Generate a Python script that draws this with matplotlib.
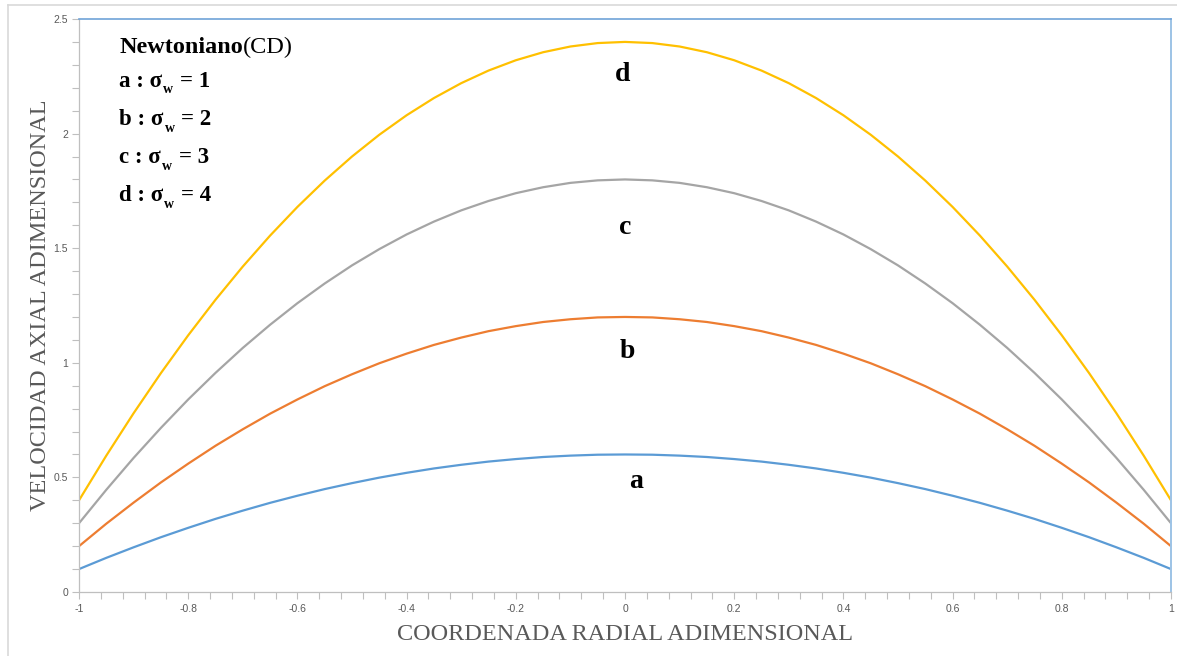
import numpy as np
import matplotlib.pyplot as plt
from matplotlib.lines import Line2D
from matplotlib.ticker import MultipleLocator

# radial coordinate and axial velocity profiles (sigma_w = 1..4)
r = np.round(np.arange(-1.0, 1.0001, 0.05), 2)

u_a = [0.1, 0.149, 0.195, 0.239, 0.28, 0.319, 0.355, 0.389, 0.42, 0.449, 0.475,
       0.499, 0.52, 0.539, 0.555, 0.569, 0.58, 0.589, 0.595, 0.599, 0.6,
       0.599, 0.595, 0.589, 0.58, 0.569, 0.555, 0.539, 0.52, 0.499, 0.475,
       0.449, 0.42, 0.389, 0.355, 0.319, 0.28, 0.239, 0.195, 0.149, 0.1]
u_b = [0.2, 0.298, 0.39, 0.478, 0.56, 0.638, 0.71, 0.778, 0.84, 0.898, 0.95,
       0.998, 1.04, 1.078, 1.11, 1.138, 1.16, 1.178, 1.19, 1.198, 1.2,
       1.198, 1.19, 1.178, 1.16, 1.138, 1.11, 1.078, 1.04, 0.998, 0.95,
       0.898, 0.84, 0.778, 0.71, 0.638, 0.56, 0.478, 0.39, 0.298, 0.2]
u_c = [0.3, 0.446, 0.585, 0.716, 0.84, 0.956, 1.065, 1.166, 1.26, 1.346, 1.425,
       1.496, 1.56, 1.616, 1.665, 1.706, 1.74, 1.766, 1.785, 1.796, 1.8,
       1.796, 1.785, 1.766, 1.74, 1.706, 1.665, 1.616, 1.56, 1.496, 1.425,
       1.346, 1.26, 1.166, 1.065, 0.956, 0.84, 0.716, 0.585, 0.446, 0.3]
u_d = [0.4, 0.595, 0.78, 0.955, 1.12, 1.275, 1.42, 1.555, 1.68, 1.795, 1.9,
       1.995, 2.08, 2.155, 2.22, 2.275, 2.32, 2.355, 2.38, 2.395, 2.4,
       2.395, 2.38, 2.355, 2.32, 2.275, 2.22, 2.155, 2.08, 1.995, 1.9,
       1.795, 1.68, 1.555, 1.42, 1.275, 1.12, 0.955, 0.78, 0.595, 0.4]

curve_names = ['a', 'b', 'c', 'd']
sigma_w = [1, 2, 3, 4]
label_pos = [(0.02, 0.48), (0.005, 1.05), (0.0, 1.59), (-0.005, 2.26)]
colors = ['#5B9BD5', '#ED7D31', '#A5A5A5', '#FFC000']

serif = 'Liberation Serif'

fig = plt.figure(figsize=(11.77, 6.56), dpi=100)
ax = fig.add_axes([79 / 1177, 1 - 592 / 656, 1092 / 1177, 573 / 656])

for u, c in zip([u_a, u_b, u_c, u_d], colors):
    ax.plot(r, u, color=c, lw=1.6, solid_capstyle='butt')

for name, (x, y) in zip(curve_names, label_pos):
    ax.text(x, y, name, ha='center', va='center', fontsize=20,
            fontweight='bold', family=serif, color='black')

ax.set_xlim(-1, 1)
ax.set_ylim(0, 2.5)
ax.xaxis.set_major_locator(MultipleLocator(0.2))
ax.xaxis.set_minor_locator(MultipleLocator(0.04))
ax.yaxis.set_major_locator(MultipleLocator(0.5))
ax.yaxis.set_minor_locator(MultipleLocator(0.1))
ax.xaxis.set_major_formatter(lambda v, p: f'{round(v, 2):g}' if abs(v) > 1e-9 else '0')
ax.yaxis.set_major_formatter(lambda v, p: f'{round(v, 2):g}')
ax.tick_params(which='both', direction='out', length=5, width=0.8,
               color='#BFBFBF', labelcolor='#595959', labelsize=7.5)
ax.tick_params(axis='x', pad=4)
ax.tick_params(axis='y', pad=3)
for lab in ax.get_xticklabels() + ax.get_yticklabels():
    lab.set_family('Liberation Sans')

for side in ['left', 'bottom']:
    ax.spines[side].set_color('#BFBFBF')
    ax.spines[side].set_linewidth(0.9)
ax.spines['top'].set_color('#6FA3D8')
ax.spines['top'].set_linewidth(1.2)
ax.spines['right'].set_color('#9DC3E6')
ax.spines['right'].set_linewidth(1.4)

ax.set_xlabel('COORDENADA RADIAL ADIMENSIONAL', family=serif,
              fontsize=17.5, color='#595959', labelpad=7)
ax.set_ylabel('VELOCIDAD AXIAL ADIMENSIONAL', family=serif,
              fontsize=17.5, color='#595959', labelpad=2)

# text block: model name and sigma_w of each curve
x0 = -0.926
name_txt = ax.text(x0, 2.352, 'Newtoniano', fontsize=17.5, fontweight='bold',
                   family=serif, va='baseline')
ax.annotate('(CD)', xy=(1, 0), xycoords=name_txt, xytext=(0, 0),
            textcoords='offset points', fontsize=17.5, family=serif,
            va='bottom', ha='left')
for i, (name, s) in enumerate(zip(curve_names, sigma_w)):
    y = 2.205 - i * 0.167
    head = ax.text(x0, y, name + ' : \u03c3', fontsize=16.5, fontweight='bold',
                   family=serif, va='baseline')
    ax.annotate('w', xy=(1, 0), xycoords=head, xytext=(0.5, -3.5),
                textcoords='offset points', fontsize=10, fontweight='bold',
                family=serif, va='bottom', ha='left')
    ax.annotate('= ' + str(s), xy=(1, 0), xycoords=head, xytext=(12.5, 0),
                textcoords='offset points', fontsize=16.5, fontweight='bold',
                family=serif, va='bottom', ha='left')

# outer chart frame
fig.add_artist(Line2D([8 / 1177, 8 / 1177], [0, 1 - 5 / 656],
                      color='#D9D9D9', lw=1.2))
fig.add_artist(Line2D([8 / 1177, 1], [1 - 5 / 656, 1 - 5 / 656],
                      color='#D9D9D9', lw=1.2))

fig.savefig('out.png', dpi=100)
